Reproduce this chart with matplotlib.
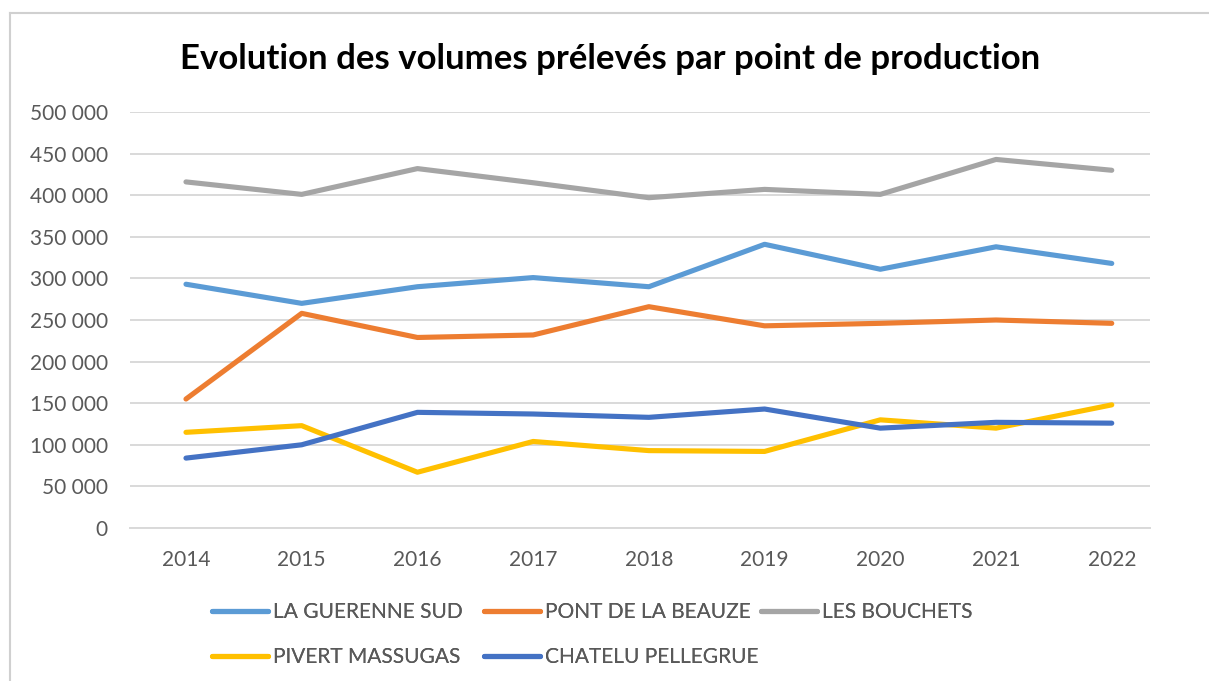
import matplotlib.pyplot as plt
from matplotlib.lines import Line2D
from matplotlib.ticker import FuncFormatter

# Years and volumes per production point
years = [2014, 2015, 2016, 2017, 2018, 2019, 2020, 2021, 2022]
guerenne = [293000, 270000, 290000, 301000, 290000, 341000, 311000, 338000, 318000]
beauze = [155000, 258000, 229000, 232000, 266000, 243000, 246000, 250000, 246000]
bouchets = [416000, 401000, 432000, 415000, 397000, 407000, 401000, 443000, 430000]
pivert = [115000, 123000, 67000, 104000, 93000, 92000, 130000, 120000, 148000]
chatelu = [84000, 100000, 139000, 137000, 133000, 143000, 120000, 127000, 126000]

names = ['LA GUERENNE SUD', 'PONT DE LA BEAUZE', 'LES BOUCHETS',
         'PIVERT MASSUGAS', 'CHATELU PELLEGRUE']
series = [guerenne, beauze, bouchets, pivert, chatelu]
colors = ['#5B9BD5', '#ED7D31', '#A5A5A5', '#FFC000', '#4472C4']

plt.rcParams['font.family'] = ['Lato', 'DejaVu Sans']

fig = plt.figure(figsize=(12.09, 6.81), dpi=100)
ax = fig.add_axes([0.1075, 0.2247, 0.8435, 0.6108])

lines = []
for vals, name, c in zip(series, names, colors):
    ln, = ax.plot(years, vals, color=c, lw=3.7, label=name, solid_capstyle='round')
    lines.append(ln)

ax.set_ylim(0, 500000)
ax.set_yticks(range(0, 500001, 50000))
ax.set_xlim(2014 - 56 / 115.7, 2022 + 38 / 115.7)
ax.set_xticks(years)
ax.yaxis.set_major_formatter(FuncFormatter(lambda v, p: f'{v:,.0f}'.replace(',', ' ')))

ax.grid(axis='y', color='#D9D9D9', lw=1.4)
ax.set_axisbelow(True)
for s in ['top', 'right', 'left']:
    ax.spines[s].set_visible(False)
ax.spines['bottom'].set_color('#D9D9D9')
ax.spines['bottom'].set_linewidth(1.4)
ax.tick_params(length=0, labelsize=15, labelcolor='#595959')
ax.tick_params(axis='y', pad=16)
ax.tick_params(axis='x', pad=16)

fig.text(0.505, 0.913, 'Evolution des volumes prélevés par point de production',
         ha='center', va='center', fontsize=25, fontweight='bold', color='black')

# Excel-style legend: fixed column slots, one small legend per entry
slot_x = [211, 483, 760, 211, 483]
slot_y = [612, 612, 612, 657, 657]
for ln, name, sx, sy in zip(lines, names, slot_x, slot_y):
    lg = fig.legend([ln], [name], loc='center left',
                    bbox_to_anchor=((sx - 17.6) / 1209, 1 - sy / 681),
                    frameon=False, fontsize=15, labelcolor='#595959',
                    handlelength=2.7, handletextpad=0.2)
    fig.add_artist(lg)

# light chart border
fig.add_artist(Line2D([10 / 1209, 10 / 1209], [0, 1 - 13 / 681], color='#D0D0D0', lw=1.5))
fig.add_artist(Line2D([10 / 1209, 1], [1 - 13 / 681, 1 - 13 / 681], color='#D0D0D0', lw=1.5))

fig.savefig('out.png', dpi=100)
